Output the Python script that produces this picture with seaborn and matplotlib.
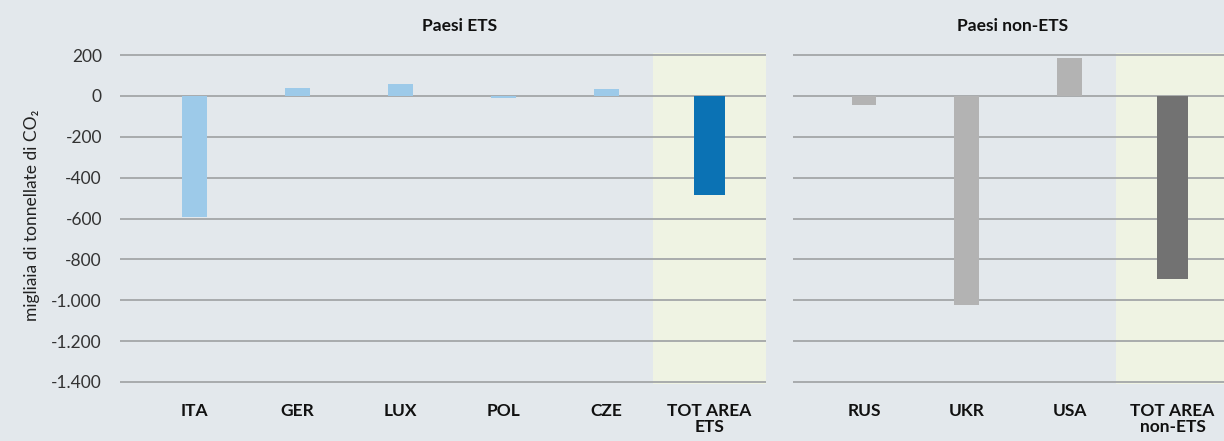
import pandas as pd
import seaborn as sns
import matplotlib.pyplot as plt
from matplotlib.ticker import FuncFormatter

# Dati (migliaia di tonnellate di CO2)
ets_paesi = ['ITA', 'GER', 'LUX', 'POL', 'CZE', 'TOT AREA\nETS']
ets_valori = [-593, 38, 57, -10, 32, -483]
non_ets_paesi = ['RUS', 'UKR', 'USA', 'TOT AREA\nnon-ETS']
non_ets_valori = [-44, -1025, 184, -898]
y_ticks = [200, 0, -200, -400, -600, -800, -1000, -1200, -1400]

BG = '#e3e8ec'
HL = '#eff3e3'
GRID = '#a3a6a8'


def fmt_it(v, pos):
    return f'{int(v):,}'.replace(',', '.')


def pannello(ax, paesi, valori, colore, colore_tot):
    df = pd.DataFrame({'paese': paesi, 'valore': valori})
    sing = df.iloc[:-1]
    tot = df.iloc[-1:]
    n = len(paesi)
    # area evidenziata per il totale
    ax.axvspan(n - 1.55, n - 0.45, color=HL, zorder=0, lw=0)
    sns.barplot(data=sing, x='paese', y='valore', order=paesi, color=colore,
                width=0.24, ax=ax, zorder=3, saturation=1, linewidth=0)
    sns.barplot(data=tot, x='paese', y='valore', order=paesi, color=colore_tot,
                width=0.30, ax=ax, zorder=3, saturation=1, linewidth=0)
    ax.set_facecolor('none')
    ax.set_ylim(-1410, 210)
    ax.set_yticks(y_ticks)
    ax.yaxis.set_major_formatter(FuncFormatter(fmt_it))
    ax.grid(axis='y', color=GRID, lw=1.3, zorder=1)
    ax.grid(axis='x', visible=False)
    ax.set_axisbelow(True)
    for s in ax.spines.values():
        s.set_visible(False)
    ax.tick_params(axis='both', length=0)
    ax.tick_params(axis='x', pad=14)
    ax.tick_params(axis='y', pad=13)
    ax.set_xlabel('')
    ax.set_ylabel('')
    for lab in ax.get_xticklabels():
        lab.set_fontweight('bold')
        lab.set_fontsize(12.5)
        lab.set_color('#111111')
        lab.set_linespacing(0.95)
        lab.set_verticalalignment('top')
    for lab in ax.get_yticklabels():
        lab.set_fontsize(12.5)
        lab.set_color('#333333')


def main():
    sns.set_style('white')
    plt.rcParams['font.family'] = ['Lato', 'DejaVu Sans']

    fig = plt.figure(figsize=(12.24, 4.41), dpi=100)
    fig.patch.set_facecolor(BG)

    bottom = 1 - 384 / 441
    height = 331 / 441
    ax1 = fig.add_axes([120 / 1224, bottom, 646 / 1224, height])
    ax2 = fig.add_axes([793 / 1224, bottom, 431 / 1224, height])

    pannello(ax1, ets_paesi, ets_valori, '#9dcae9', '#0b72b4')
    ax1.set_xlim(-0.72, 5.55)
    pannello(ax2, non_ets_paesi, non_ets_valori, '#b3b3b3', '#727272')
    ax2.set_xlim(-0.69, 3.5)
    ax2.set_yticklabels([])

    fig.text(460 / 1224, 1 - 26 / 441, 'Paesi ETS', ha='center', va='center',
             fontsize=12.5, fontweight='bold', color='#111111')
    fig.text(1013 / 1224, 1 - 26 / 441, 'Paesi non-ETS', ha='center', va='center',
             fontsize=12.5, fontweight='bold', color='#111111')
    fig.text(32 / 1224, 1 - 215 / 441, 'migliaia di tonnellate di CO₂', rotation=90,
             ha='center', va='center', fontsize=12.5, color='#222222')

    fig.savefig('out.png', dpi=100, facecolor=BG)


if __name__ == '__main__':
    main()
